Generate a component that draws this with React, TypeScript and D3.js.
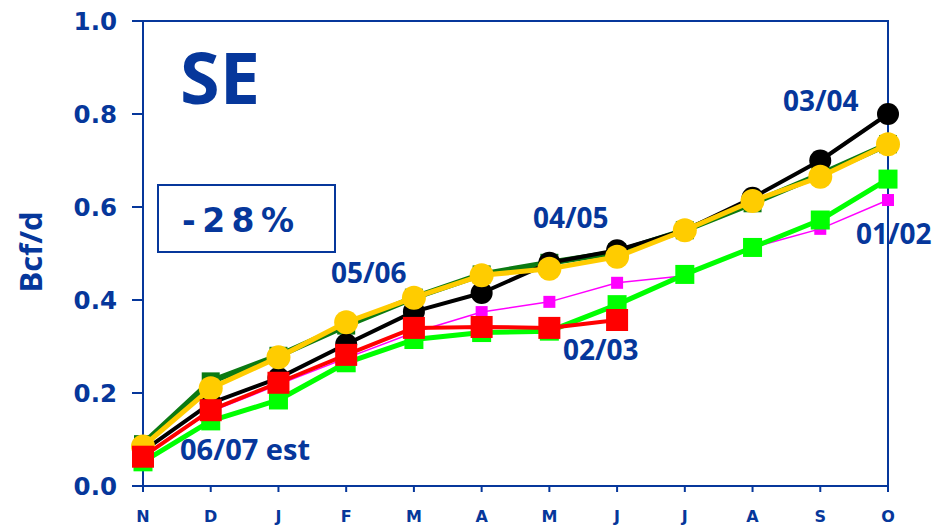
import React from "react";
import * as d3 from "d3";

const months = ["N", "D", "J", "F", "M", "A", "M", "J", "J", "A", "S", "O"];
const yTicks = [0, 0.2, 0.4, 0.6, 0.8, 1.0];

// series values (Bcf/d)
const s0405 = [0.09, 0.225, 0.28, 0.345, 0.405, 0.455, 0.48, 0.503, 0.55, 0.608, 0.67, 0.735];
const s0304 = [0.075, 0.178, 0.232, 0.305, 0.375, 0.415, 0.48, 0.507, 0.55, 0.62, 0.70, 0.80];
const s0506 = [0.085, 0.21, 0.277, 0.352, 0.405, 0.453, 0.467, 0.493, 0.55, 0.613, 0.665, 0.735];
const s0102 = [0.065, 0.16, 0.218, 0.275, 0.33, 0.374, 0.396, 0.437, 0.452, 0.513, 0.553, 0.615];
const s0203 = [0.052, 0.14, 0.185, 0.265, 0.315, 0.33, 0.333, 0.39, 0.455, 0.513, 0.572, 0.66];
const s0607 = [0.063, 0.163, 0.222, 0.282, 0.34, 0.342, 0.34, 0.357];

const BLUE = "#06379b";

type Series = {
  name: string;
  values: number[];
  color: string;
  width: number;
  marker: "circle" | "square";
  size: number;
};

const series: Series[] = [
  { name: "04/05", values: s0405, color: "#0b7a12", width: 6, marker: "square", size: 18 },
  { name: "03/04", values: s0304, color: "#000000", width: 4, marker: "circle", size: 11 },
  { name: "05/06", values: s0506, color: "#ffcc00", width: 5, marker: "circle", size: 12 },
  { name: "01/02", values: s0102, color: "#ff00ff", width: 1.5, marker: "square", size: 12 },
  { name: "02/03", values: s0203, color: "#00ff00", width: 5, marker: "square", size: 19 },
  { name: "06/07 est", values: s0607, color: "#ff0000", width: 4, marker: "square", size: 22 },
];

export default function App() {
  const W = 943, H = 525;
  const left = 143, right = 888, top = 21, bottom = 486;
  const x = d3.scaleLinear().domain([0, months.length - 1]).range([left, right]);
  const y = d3.scaleLinear().domain([0, 1]).range([bottom, top]);
  const line = d3.line<number>().x((_, i) => x(i)).y((v) => y(v));

  const fontV = "'DejaVu Sans', Verdana, sans-serif";
  const font2 = "'Open Sans', sans-serif";

  return (
    <svg width={W} height={H} style={{ position: "absolute", left: 0, top: 0, background: "#fff" }}>
      {/* frame */}
      <rect x={left} y={top} width={right - left} height={bottom - top} fill="none" stroke={BLUE} strokeWidth={2} />
      {/* y ticks */}
      {yTicks.map((t) => (
        <g key={t}>
          <line x1={left - 11} x2={left} y1={y(t)} y2={y(t)} stroke={BLUE} strokeWidth={2} />
          <text x={117} y={y(t) + 9} textAnchor="end" fontFamily={fontV} fontWeight="bold" fontSize={24.5} fill={BLUE}>
            {t.toFixed(1)}
          </text>
        </g>
      ))}
      {/* x ticks */}
      {months.map((m, i) => (
        <g key={i}>
          <line x1={x(i)} x2={x(i)} y1={bottom} y2={bottom + 6} stroke={BLUE} strokeWidth={2} />
          <text x={x(i)} y={522} textAnchor="middle" fontFamily={fontV} fontWeight="bold" fontSize={16} fill={BLUE}>
            {m}
          </text>
        </g>
      ))}
      {/* y label */}
      <text
        transform={`translate(42,252) rotate(-90)`}
        textAnchor="middle"
        fontFamily={font2}
        fontWeight="bold"
        fontSize={31}
        fill={BLUE}
      >
        Bcf/d
      </text>
      {/* series */}
      {series.map((s) => (
        <g key={s.name}>
          <path d={line(s.values) || ""} fill="none" stroke={s.color} strokeWidth={s.width} strokeLinejoin="round" />
          {s.values.map((v, i) =>
            s.marker === "circle" ? (
              <circle key={i} cx={x(i)} cy={y(v)} r={s.size} fill={s.color} />
            ) : (
              <rect key={i} x={x(i) - s.size / 2} y={y(v) - s.size / 2} width={s.size} height={s.size} fill={s.color} />
            )
          )}
        </g>
      ))}
      {/* title */}
      <text x={180} y={104} fontFamily={font2} fontWeight="bold" fontSize={72} fill={BLUE}>
        SE
      </text>
      <rect x={158} y={185} width={177} height={67} fill="#fff" stroke={BLUE} strokeWidth={2} />
      <text x={182} y={232} fontFamily={fontV} fontWeight="bold" fontSize={33} fill={BLUE} textLength={112} lengthAdjust="spacing">
        -28%
      </text>
      {/* series labels */}
      <text x={331} y={283} fontFamily={font2} fontWeight="bold" fontSize={28} fill={BLUE}>05/06</text>
      <text x={533} y={228} fontFamily={font2} fontWeight="bold" fontSize={28} fill={BLUE}>04/05</text>
      <text x={783} y={111} fontFamily={font2} fontWeight="bold" fontSize={28} fill={BLUE}>03/04</text>
      <text x={856} y={244} fontFamily={font2} fontWeight="bold" fontSize={28} fill={BLUE}>01/02</text>
      <text x={563} y={360} fontFamily={font2} fontWeight="bold" fontSize={28} fill={BLUE}>02/03</text>
      <text x={180} y={460} fontFamily={font2} fontWeight="bold" fontSize={29} fill={BLUE}>06/07 est</text>
    </svg>
  );
}
